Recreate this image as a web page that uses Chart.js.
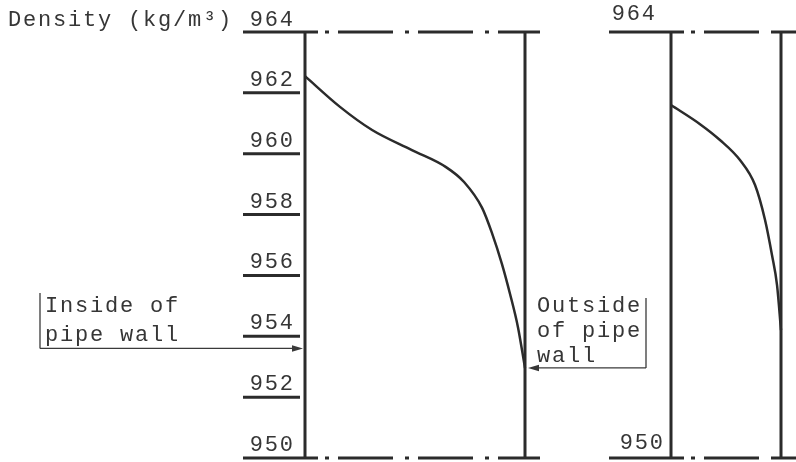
<!DOCTYPE html>
<html>
<head>
<meta charset="utf-8">
<script src="https://cdn.jsdelivr.net/npm/chart.js@4/dist/chart.umd.min.js"></script>
<style>
  html, body { margin: 0; padding: 0; background: #ffffff; }
  #wrap { position: relative; width: 796px; height: 462px; overflow: hidden; background: #ffffff; }
  canvas { position: absolute; top: 0; }
  #pipeA { left: 0; }
  #pipeB { left: 580px; }
</style>
</head>
<body>
<div id="wrap">
  <canvas id="pipeA" width="796" height="462"></canvas>
  <canvas id="pipeB" width="216" height="462"></canvas>
</div>
<script>
// Density scale (kg/m³)
const densityMin = 950;
const densityMax = 964;
const densityTicks = [964, 962, 960, 958, 956, 954, 952, 950];

// Position across the wall: 0 = inside of pipe wall, 1 = outside of pipe wall
const positionA = [0, 0.159, 0.305, 0.486, 0.641, 0.723, 0.805, 0.85, 0.895, 0.932, 0.968, 1];
const densityA  = [962.55, 961.54, 960.78, 960.12, 959.56, 959.07, 958.22, 957.39, 956.38, 955.39, 954.3, 952.96];

const positionB = [0, 0.264, 0.445, 0.627, 0.764, 0.855, 0.918, 0.964, 1];
const densityB  = [961.6, 960.97, 960.45, 959.79, 958.97, 957.82, 956.67, 955.68, 954.2];

// Where the "inside" pointer meets the wall
const insidePointerDensity = 953.6;

const INK = '#2b2b2b';
const TEXT_INK = '#363636';
const FONT = '22px "Liberation Mono", "DejaVu Sans Mono", monospace';
const SPACING = 1.8;

function drawText(ctx, str, x, y, align) {
  ctx.font = FONT;
  ctx.letterSpacing = SPACING + 'px';
  ctx.textAlign = 'left';
  ctx.textBaseline = 'alphabetic';
  const w = ctx.measureText(str).width - SPACING;
  const left = align === 'right' ? x - w : x;
  ctx.fillStyle = TEXT_INK;
  ctx.fillText(str, left, y);
}

function line(ctx, x1, y1, x2, y2, w, dash, offset) {
  ctx.beginPath();
  ctx.lineWidth = w;
  ctx.setLineDash(dash || []);
  ctx.lineDashOffset = offset || 0;
  ctx.moveTo(x1, y1);
  ctx.lineTo(x2, y2);
  ctx.stroke();
  ctx.setLineDash([]);
}

function arrowHead(ctx, x, y, dir) {
  ctx.beginPath();
  ctx.moveTo(x, y);
  ctx.lineTo(x - dir * 11, y - 3.2);
  ctx.lineTo(x - dir * 11, y + 3.2);
  ctx.closePath();
  ctx.fill();
}

// Rules, scale ticks, labels and wall pointers for one pipe-wall panel
const wallPanel = {
  id: 'wallPanel',
  afterDatasetsDraw(chart, args, o) {
    const { ctx, scales: { x, y } } = chart;
    const xi = x.getPixelForValue(0);
    const xo = x.getPixelForValue(1);
    ctx.save();
    ctx.strokeStyle = INK;
    ctx.fillStyle = INK;
    ctx.lineCap = 'butt';

    // top and bottom rules: solid near the scale, dash-dot across the wall
    for (const v of [densityMax, densityMin]) {
      const py = y.getPixelForValue(v);
      line(ctx, xi - o.ruleReach, py, xi + 13, py, 3);
      line(ctx, xi + 13, py, xo - 8, py, 3, [4, 9, 55, 12], 73);
      line(ctx, xo - 8, py, xo + o.tail, py, 3);
    }

    // short ticks for the inner values
    for (const v of o.ticks) {
      const py = y.getPixelForValue(v);
      line(ctx, xi - o.ruleReach, py, xi - 5, py, 3);
    }

    // tick labels
    for (const l of o.labels) {
      const py = y.getPixelForValue(l.value);
      drawText(ctx, String(l.value), xi - l.right, py - l.raise, 'right');
    }

    if (o.title) {
      drawText(ctx, o.title, 8, y.getPixelForValue(densityMax) - 6, 'left');
    }

    // pointers to the wall faces
    ctx.strokeStyle = '#3a3a3a';
    ctx.fillStyle = '#3a3a3a';
    for (const p of o.pointers) {
      const py = y.getPixelForValue(p.density);
      const target = p.side === 'inside' ? xi - 2 : xo + 3;
      const dir = p.side === 'inside' ? 1 : -1;
      line(ctx, p.bracketX, p.bracketTop, p.bracketX, py, 1.3);
      line(ctx, p.bracketX, py, target - dir * 8, py, 1.3);
      arrowHead(ctx, target, py, dir);
      p.lines.forEach((s, i) => drawText(ctx, s, p.textX, p.baseline + i * p.gap, 'left'));
    }
    ctx.restore();
  }
};

function profileSet(pos, dens) {
  return pos.map((p, i) => ({ x: p, y: dens[i] }));
}

function wallSet(at) {
  return [{ x: at, y: densityMin }, { x: at, y: densityMax }];
}

function panel(id, pos, dens, padding, deco) {
  return new Chart(document.getElementById(id), {
    type: 'scatter',
    data: {
      datasets: [
        { data: wallSet(0), showLine: true, borderColor: INK, borderWidth: 3, pointRadius: 0, clip: false },
        { data: wallSet(1), showLine: true, borderColor: INK, borderWidth: 3, pointRadius: 0, clip: false },
        { data: profileSet(pos, dens), showLine: true, borderColor: INK, borderWidth: 2.5,
          pointRadius: 0, cubicInterpolationMode: 'monotone', clip: false }
      ]
    },
    options: {
      responsive: false,
      animation: false,
      events: [],
      layout: { padding },
      scales: {
        x: { type: 'linear', min: 0, max: 1, display: false },
        y: { type: 'linear', min: densityMin, max: densityMax, display: false }
      },
      plugins: { legend: { display: false }, tooltip: { enabled: false }, wallPanel: deco }
    },
    plugins: [wallPanel]
  });
}

panel('pipeA', positionA, densityA, { left: 305, right: 271, top: 32, bottom: 4 }, {
  ruleReach: 62,
  tail: 15,
  ticks: densityTicks.filter(v => v !== densityMin && v !== densityMax),
  labels: densityTicks.map(v => ({ value: v, right: 12, raise: v === densityMax ? 6 : 7 })),
  title: 'Density (kg/m\u00B3)',
  pointers: [
    { side: 'inside', density: insidePointerDensity, bracketX: 40, bracketTop: 293,
      lines: ['Inside of', 'pipe wall'], textX: 45, baseline: 312, gap: 29 },
    { side: 'outside', density: densityA[densityA.length - 1], bracketX: 646, bracketTop: 298,
      lines: ['Outside', 'of pipe', 'wall'], textX: 537, baseline: 312, gap: 25 }
  ]
});

panel('pipeB', positionB, densityB, { left: 91, right: 15, top: 32, bottom: 4 }, {
  ruleReach: 62,
  tail: 30,
  ticks: [],
  labels: [
    { value: densityMax, right: 16, raise: 12 },
    { value: densityMin, right: 8, raise: 9 }
  ],
  title: null,
  pointers: []
});
</script>
</body>
</html>
